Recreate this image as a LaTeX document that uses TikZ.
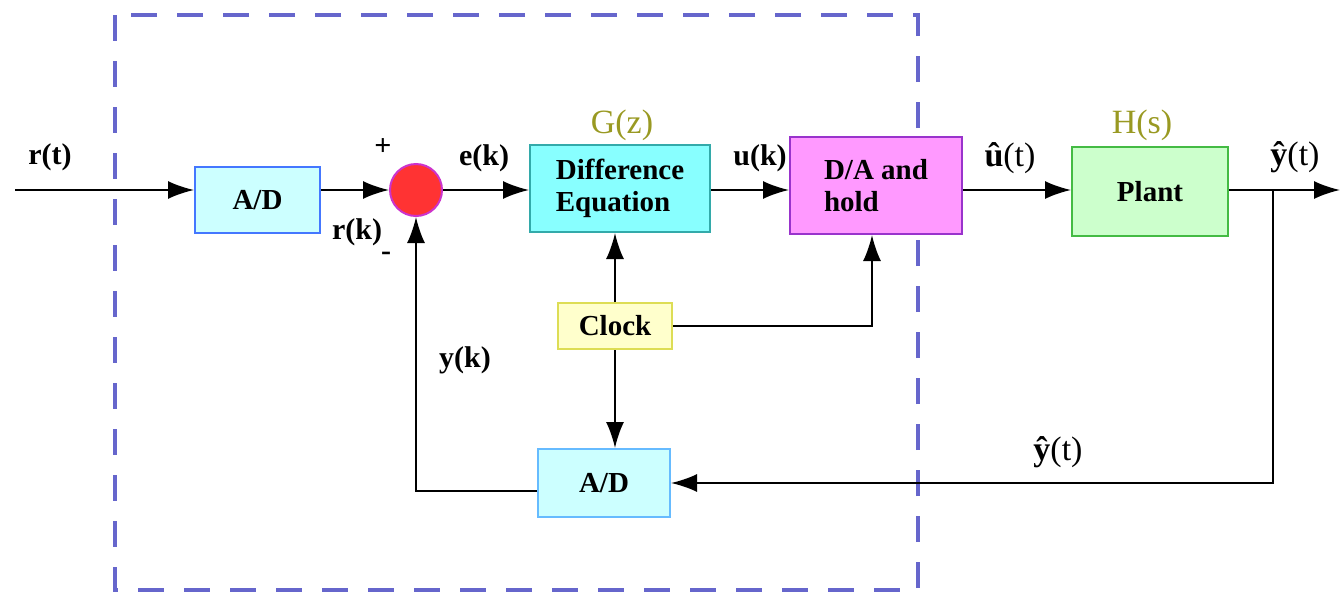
\documentclass[tikz,border=0pt]{standalone}
\usepackage{fontspec}
\setmainfont{Liberation Serif}
\usetikzlibrary{arrows.meta}
\definecolor{adfill}{HTML}{CCFFFF}
\definecolor{adline}{HTML}{4477FF}
\definecolor{adlineb}{HTML}{66BBFF}
\definecolor{difffill}{HTML}{88FFFF}
\definecolor{diffline}{HTML}{33AAAA}
\definecolor{dafill}{HTML}{FF99FF}
\definecolor{daline}{HTML}{9933CC}
\definecolor{plantfill}{HTML}{CCFFCC}
\definecolor{plantline}{HTML}{44BB44}
\definecolor{clockfill}{HTML}{FFFFCC}
\definecolor{clockline}{HTML}{DDDD55}
\definecolor{sumfill}{HTML}{FF3333}
\definecolor{sumline}{HTML}{CC33CC}
\definecolor{dashcol}{HTML}{6666CC}
\definecolor{olive2}{HTML}{999922}
\begin{document}
\begin{tikzpicture}[x=0.5pt,y=-0.5pt,
  blk/.style={draw, line width=1pt, inner sep=0pt, font=\fontsize{14.5}{16}\selectfont\bfseries},
  lbl/.style={font=\fontsize{15}{17}\selectfont\bfseries},
  hatlbl/.style={font=\fontsize{17}{19}\selectfont},
  tf/.style={text=olive2, font=\fontsize{17}{19}\selectfont},
  arr/.style={line width=1pt, -{Latex[length=13pt,width=9pt]}}]
\useasboundingbox (0,0) rectangle (1344,595);
% dashed sampled region
\draw[dashcol, line width=1.8pt, dash pattern=on 13pt off 10pt] (115,15) rectangle (918,590);
% blocks
\node[blk, fill=adfill, draw=adline, minimum width=62.5pt, minimum height=33pt] (ad1) at (257.5,200) {A/D};
\node[draw=sumline, fill=sumfill, circle, line width=1pt, minimum size=26pt, inner sep=0pt] (sum) at (416,190) {};
\node[blk, fill=difffill, draw=diffline, minimum width=90pt, minimum height=43.5pt, align=left] (diff) at (620,188.5) {Difference\\Equation};
\node[blk, fill=dafill, draw=daline, minimum width=86pt, minimum height=48.5pt, align=left] (da) at (876,185.5) {D/A and\\hold};
\node[blk, fill=plantfill, draw=plantline, minimum width=78pt, minimum height=44.5pt] (plant) at (1150,191.5) {Plant};
\node[blk, fill=clockfill, draw=clockline, minimum width=57pt, minimum height=23pt] (clock) at (615,326) {Clock};
\node[blk, fill=adfill, draw=adlineb, minimum width=66pt, minimum height=34pt] (ad2) at (604,483) {A/D};
% coordinates
\coordinate (rin) at (15,190);
\coordinate (out) at (1340,190);
\coordinate (br) at (1273,190);
\coordinate (brd) at (1273,483);
\coordinate (fbl) at (416,491);
\coordinate (ck) at (872,326);
% connectors
\draw[arr] (rin) -- (ad1.west |- rin);
\draw[arr] (ad1.east |- sum.west) -- (sum.west);
\draw[arr] (sum.east) -- (diff.west |- sum.east);
\draw[arr] (diff.east |- sum.east) -- (da.west |- sum.east);
\draw[arr] (da.east |- sum.east) -- (plant.west |- sum.east);
\draw[arr] (plant.east |- out) -- (out);
\draw[arr] (br) -- (brd) -- (ad2.east |- brd);
\draw[arr] (ad2.west |- fbl) -- (fbl) -- (sum.south);
\draw[arr] (clock.north) -- (clock.north |- diff.south);
\draw[arr] (clock.east) -- (ck) -- (ck |- da.south);
\draw[arr] (clock.south) -- (clock.south |- ad2.north);
% labels
\node[lbl] (lrt) at (50,157) {r(t)};
\node[lbl] (lplus) at (383,147) {+};
\node[lbl] (lrk) at (357,232) {r(k)};
\node[lbl] (lminus) at (386,256) {-};
\node[lbl] (lek) at (484,158) {e(k)};
\node[tf] (lgz) at (622,125) {G(z)};
\node[lbl] (luk) at (760,158) {u(k)};
\node[hatlbl] (lut) at (1010,158) {{\bfseries û}(t)};
\node[tf] (lhs) at (1142,125) {H(s)};
\node[hatlbl] (lyt) at (1295,157) {{\bfseries ŷ}(t)};
\node[lbl] (lyk) at (465,360) {y(k)};
\node[hatlbl] (lyt2) at (1058,452) {{\bfseries ŷ}(t)};
\end{tikzpicture}
\end{document}
